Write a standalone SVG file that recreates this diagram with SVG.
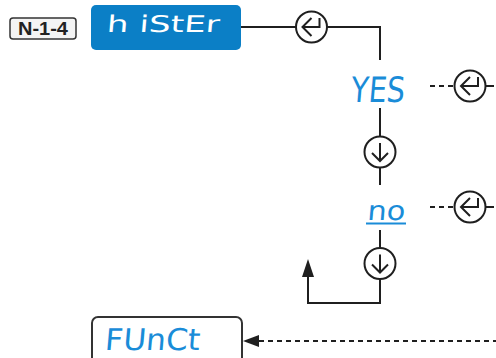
<svg xmlns="http://www.w3.org/2000/svg" width="496" height="358" viewBox="0 0 496 358">
<defs>
<style>
.ln{fill:none;stroke:#1f1f1f;stroke-width:2}
.dash{fill:none;stroke:#1f1f1f;stroke-width:2;stroke-dasharray:5 4}
.ring{fill:#fff;stroke:#1f1f1f;stroke-width:2}
.sym{fill:none;stroke:#1f1f1f;stroke-width:2;stroke-linejoin:miter}
.seg{font-family:"DejaVu Sans","Liberation Sans",sans-serif;fill:#1a8cd8}
</style>
<g id="enterSym">
<circle class="ring" cx="0" cy="0" r="15.5"/>
<path class="sym" d="M0,-9 L-9,0 L0,9 M-9,0 H8 V-9"/>
</g>
<g id="downSym">
<circle class="ring" cx="0" cy="0" r="15.5"/>
<path class="sym" d="M0,-9 V9 M-8,1 L0,9 L8,1"/>
</g>
</defs>
<rect width="496" height="358" fill="#fff"/>

<g id="connectors">
<path class="ln" d="M241,27 H296 M327,27 H380 V60"/>
<path class="ln" d="M380,108 V136.5 M380,167.5 V185"/>
<path class="ln" d="M380,230 V248 M380,279 V303 H308 V276"/>
<polygon points="308,259 302,277 314,277" fill="#1f1f1f"/>
<path class="dash" d="M430,86 H455"/>
<path class="ln" d="M486,86 H494"/>
<path class="dash" d="M430,207 H455"/>
<path class="ln" d="M486,207 H494"/>
<path class="dash" d="M259,341 H496"/>
<polygon points="243,341 259,335 259,347" fill="#1f1f1f"/>
</g>

<g id="tag">
<rect x="10" y="18" width="66" height="21" rx="3" fill="#f4f4f4" stroke="#333" stroke-width="1.5"/>
<text x="43" y="35" text-anchor="middle" font-family="Liberation Sans, Arial, sans-serif" font-weight="bold" font-size="18" textLength="50" lengthAdjust="spacingAndGlyphs" fill="#222">N-1-4</text>
</g>

<g id="hister">
<rect x="91" y="5" width="150" height="45" rx="5" fill="#0b7fc6"/>
<text class="seg" x="107" y="32" font-size="23" textLength="113" lengthAdjust="spacingAndGlyphs" style="fill:#fff" transform="skewX(-5) translate(2,0)">h iStEr</text>
</g>

<g id="enter1"><use href="#enterSym" x="311.5" y="27"/></g>

<g id="yes">
<text class="seg" x="350" y="102" font-size="35" textLength="54" lengthAdjust="spacingAndGlyphs" transform="skewX(-5) translate(9,0)">YES</text>
</g>
<g id="enter2"><use href="#enterSym" x="470" y="86"/></g>
<g id="down1"><use href="#downSym" x="380" y="152"/></g>

<g id="no">
<text class="seg" x="367" y="220" font-size="27" textLength="38" lengthAdjust="spacingAndGlyphs" transform="skewX(-5) translate(19,0)">no</text>
<line x1="366" y1="223.5" x2="406" y2="223.5" stroke="#1a8cd8" stroke-width="1.8"/>
</g>
<g id="enter3"><use href="#enterSym" x="470" y="207"/></g>
<g id="down2"><use href="#downSym" x="380" y="263.5"/></g>

<g id="funct">
<rect x="92" y="317" width="150" height="55" rx="6" fill="#fff" stroke="#333" stroke-width="2"/>
<text class="seg" x="105" y="350" font-size="30" textLength="95" lengthAdjust="spacingAndGlyphs" transform="skewX(-5) translate(30,0)">FUnCt</text>
</g>
</svg>
